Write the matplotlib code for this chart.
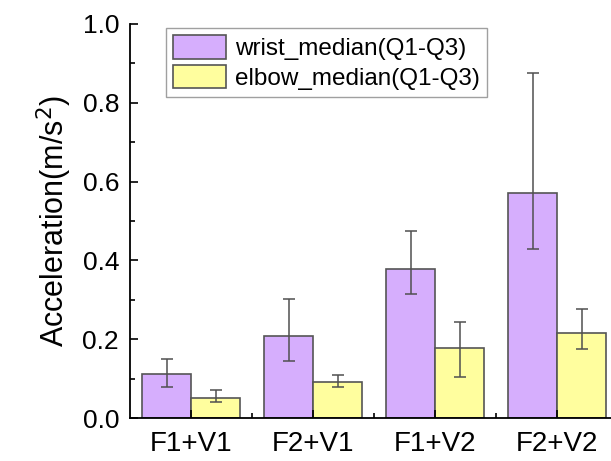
import numpy as np
import matplotlib.pyplot as plt
from matplotlib.ticker import MultipleLocator, FixedLocator

plt.rcParams['font.family'] = ['Liberation Sans', 'DejaVu Sans']

# data
groups = ['F1+V1', 'F2+V1', 'F1+V2', 'F2+V2']
wrist_median = [0.112, 0.208, 0.379, 0.570]
wrist_q1 = [0.079, 0.144, 0.315, 0.429]
wrist_q3 = [0.150, 0.303, 0.475, 0.876]
elbow_median = [0.050, 0.092, 0.178, 0.215]
elbow_q1 = [0.042, 0.078, 0.104, 0.176]
elbow_q3 = [0.072, 0.109, 0.244, 0.278]

wrist_color = '#D6AEFD'
elbow_color = '#FFFE9E'

fig = plt.figure(figsize=(6.11, 4.61), dpi=100)
ax = fig.add_axes([0.213, 0.093, 0.787, 0.855])

x = np.arange(1, len(groups) + 1)
w = 0.4

wrist_err = [np.array(wrist_median) - np.array(wrist_q1),
             np.array(wrist_q3) - np.array(wrist_median)]
elbow_err = [np.array(elbow_median) - np.array(elbow_q1),
             np.array(elbow_q3) - np.array(elbow_median)]

err_kw = dict(ecolor='#505050', elinewidth=1.1, capsize=4, capthick=1.1)
ax.bar(x - w / 2, wrist_median, w, color=wrist_color, edgecolor='#555555',
       linewidth=1.2, yerr=wrist_err, error_kw=err_kw,
       label='wrist_median(Q1-Q3)')
ax.bar(x + w / 2, elbow_median, w, color=elbow_color, edgecolor='#555555',
       linewidth=1.2, yerr=elbow_err, error_kw=err_kw,
       label='elbow_median(Q1-Q3)')

ax.set_xlim(0.5, 4.44)
ax.set_ylim(0, 1.0)
ax.set_xticks(x)
ax.set_xticklabels(groups, fontsize=20)
ax.xaxis.set_minor_locator(FixedLocator([1.5, 2.5, 3.5]))
ax.yaxis.set_minor_locator(MultipleLocator(0.1))
ax.set_yticks(np.arange(0, 1.01, 0.2))
ax.set_yticklabels(['%.1f' % v for v in np.arange(0, 1.01, 0.2)], fontsize=19)
ax.tick_params(axis='both', which='major', direction='in', length=6,
               width=1.2, pad=8)
ax.tick_params(axis='both', which='minor', direction='in', length=3.5,
               width=1.2)
ax.tick_params(axis='x', which='major', pad=9)

for s in ['top', 'right']:
    ax.spines[s].set_visible(False)
for s in ['left', 'bottom']:
    ax.spines[s].set_linewidth(1.3)

ax.set_ylabel('Acceleration(m/s$^2$)', fontsize=22, labelpad=6)

leg = ax.legend(loc='upper left', bbox_to_anchor=(0.074, 0.99), fontsize=17.5,
                frameon=True, fancybox=False, edgecolor='#888888',
                handlelength=2.2, handleheight=1.1, handletextpad=0.35,
                labelspacing=0.2, borderpad=0.3, borderaxespad=0)
leg.get_frame().set_linewidth(1.0)

fig.savefig('out.png', dpi=100)
